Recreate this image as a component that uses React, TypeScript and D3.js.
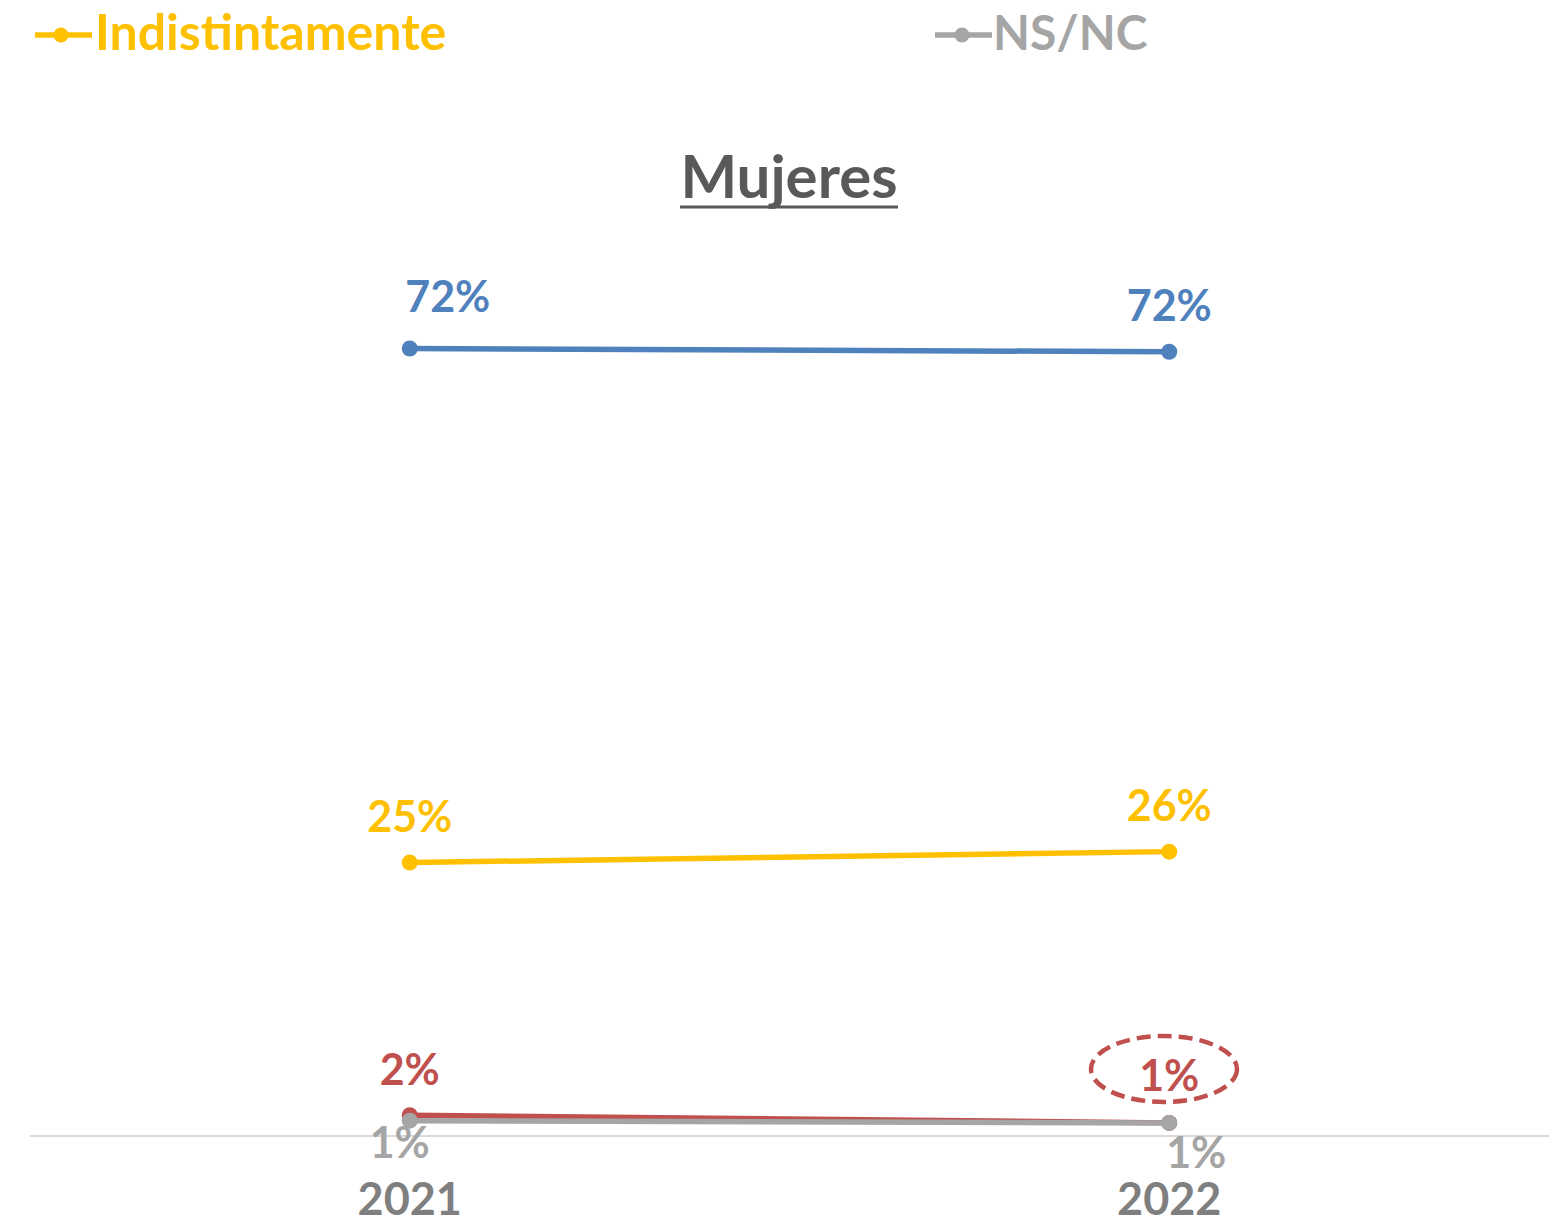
import React from "react";
import * as d3 from "d3";

const years = ["2021", "2022"];
const seriesNames = ["Azul", "Hombres", "Indistintamente", "NS/NC"];
const blueValues = [72.0, 71.7];
const redValues = [1.9, 1.2];
const yellowValues = [25.0, 26.0];
const grayValues = [1.4, 1.2];
const legendItems = ["Indistintamente", "NS/NC"];
const chartTitle = "Mujeres";

const W = 1564;
const H = 1225;
const FONT = "Lato, 'Open Sans', sans-serif";

const colors = {
  blue: "#4F81BD",
  red: "#C0504D",
  yellow: "#FFC000",
  gray: "#A5A5A5",
};

type Series = { key: string; values: number[]; color: string; labelColor: string; offsets: [number, number][] };

const series: Series[] = [
  { key: seriesNames[0], values: blueValues, color: colors.blue, labelColor: colors.blue, offsets: [[38, -37], [0, -31]] },
  { key: seriesNames[1], values: redValues, color: colors.red, labelColor: colors.red, offsets: [[0, -30], [0, -32]] },
  { key: seriesNames[2], values: yellowValues, color: colors.yellow, labelColor: colors.yellow, offsets: [[0, -31], [0, -31]] },
  { key: seriesNames[3], values: grayValues, color: colors.gray, labelColor: colors.gray, offsets: [[-10, 37], [27, 45]] },
];

export default function App() {
  const x = d3.scalePoint<string>().domain(years).range([30, 1549]).padding(0.5);
  const y = d3.scaleLinear().domain([0, 80]).range([1136, 261]);
  const line = d3
    .line<number>()
    .x((_, i) => x(years[i]) as number)
    .y((v) => y(v));

  return (
    <div style={{ position: "absolute", left: 0, top: 0 }}>
      <svg width={W} height={H} style={{ display: "block", background: "#fff" }}>
        {/* legend */}
        <g fontFamily={FONT} fontWeight={700} fontSize={50}>
          <line x1={35} x2={92} y1={35} y2={35} stroke={colors.yellow} strokeWidth={5.5} />
          <circle cx={61} cy={35} r={7.5} fill={colors.yellow} />
          <text x={95} y={50} fill={colors.yellow}>{legendItems[0]}</text>
          <line x1={935} x2={992} y1={35} y2={35} stroke={colors.gray} strokeWidth={5.5} />
          <circle cx={962} cy={35} r={7.5} fill={colors.gray} />
          <text x={993} y={50} fill={colors.gray} fontSize={48}>{legendItems[1]}</text>
        </g>
        {/* title */}
        <text x={789} y={198} textAnchor="middle" fontFamily={FONT} fontWeight={700} fontSize={60} fill="#595959">
          {chartTitle}
        </text>
        <line x1={680} x2={898} y1={207} y2={207} stroke="#595959" strokeWidth={3} />
        {/* axis */}
        <line x1={30} x2={1549} y1={y(0)} y2={y(0)} stroke="#D9D9D9" strokeWidth={2} />
        {years.map((yr) => (
          <text key={yr} x={x(yr)} y={1215} textAnchor="middle" fontFamily={FONT} fontWeight={700} fontSize={45} fill="#7F7F7F">
            {yr}
          </text>
        ))}
        {/* lines */}
        {series.map((s) => (
          <g key={s.key}>
            <path d={line(s.values) || ""} fill="none" stroke={s.color} strokeWidth={5.5} />
            {s.values.map((v, i) => (
              <circle key={i} cx={x(years[i])} cy={y(v)} r={8} fill={s.color} />
            ))}
          </g>
        ))}
        {/* labels */}
        {series.map((s) =>
          s.values.map((v, i) => (
            <text
              key={s.key + i}
              x={(x(years[i]) as number) + s.offsets[i][0]}
              y={y(v) + s.offsets[i][1]}
              textAnchor="middle"
              fontFamily={FONT}
              fontWeight={700}
              fontSize={43}
              fill={s.labelColor}
            >
              {Math.round(v) + "%"}
            </text>
          ))
        )}
        {/* highlight ellipse */}
        <ellipse cx={1164} cy={1069} rx={73} ry={33} fill="none" stroke={colors.red} strokeWidth={4.5} strokeDasharray="14 7" />
      </svg>
    </div>
  );
}
